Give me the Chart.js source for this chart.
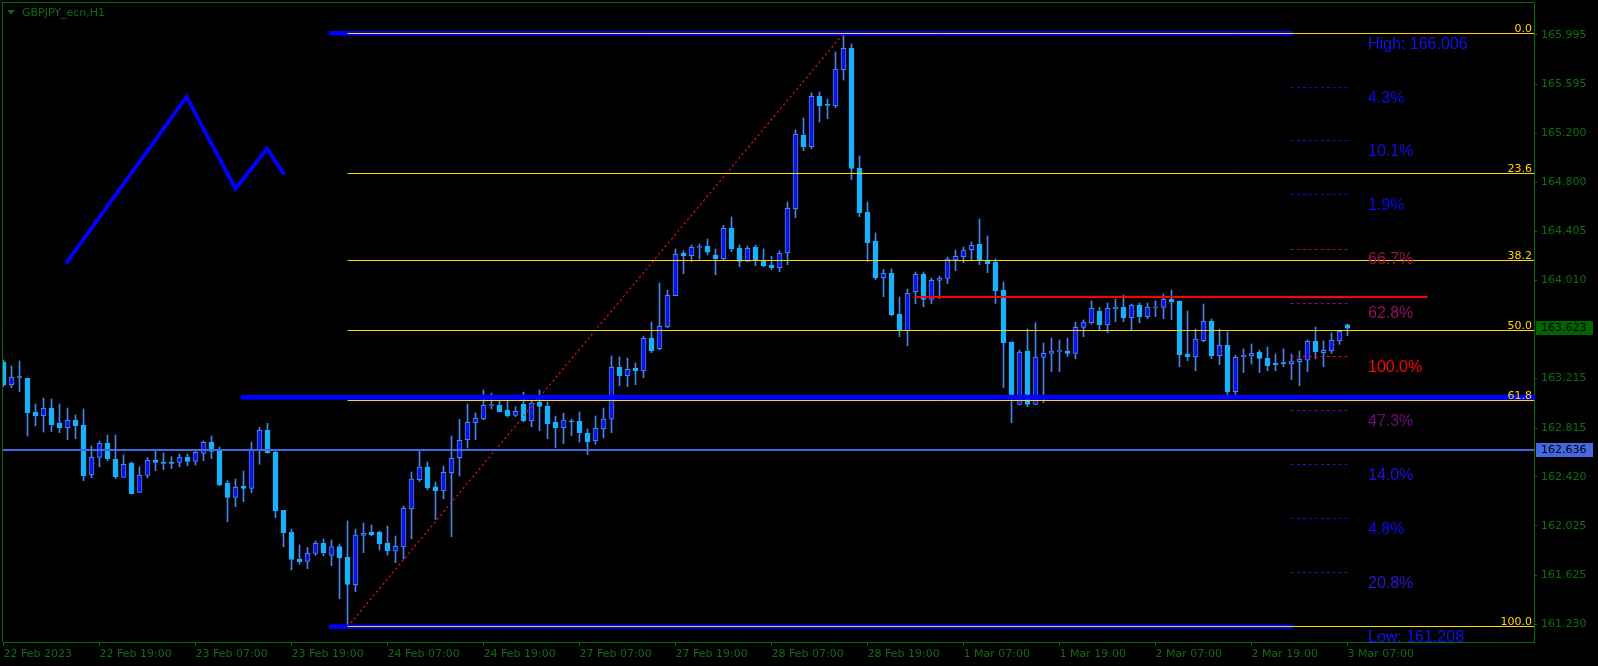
<!DOCTYPE html>
<html>
<head>
<meta charset="utf-8">
<title>GBPJPY_ecn,H1</title>
<script src="https://cdn.jsdelivr.net/npm/chart.js@4.4.1/dist/chart.umd.min.js"></script>
<style>
  html, body { margin: 0; padding: 0; background: #000; }
  #wrap { position: relative; width: 1598px; height: 666px; }
</style>
</head>
<body>
<div id="wrap"><canvas id="priceChart"></canvas></div>
<script>
// GBPJPY H1 candles, one row = 12 hours (22 Feb 2023 07:00 .. 3 Mar 2023 07:00)
const opens = [
  163.349, 163.166, 163.225, 163.217, 162.945, 162.915, 162.974, 162.856, 162.818, 162.880, 162.840, 162.438,
  162.578, 162.692, 162.562, 162.417, 162.530, 162.295, 162.433, 162.554, 162.541, 162.541, 162.538, 162.578,
  162.546, 162.611, 162.700, 162.627, 162.368, 162.255, 162.347, 162.328, 162.638, 162.797, 162.619, 162.150,
  161.972, 161.756, 161.738, 161.802, 161.883, 161.786, 161.856, 161.770, 161.549, 161.948, 161.972, 161.975,
  161.886, 161.821, 161.856, 162.163, 162.398, 162.500, 162.339, 162.309, 162.454, 162.576, 162.721, 162.859,
  162.891, 162.999, 163.001, 162.958, 162.918, 163.009, 162.875, 163.026, 162.991, 162.864, 162.818, 162.867,
  162.869, 162.775, 162.713, 162.810, 162.886, 163.306, 163.239, 163.298, 163.279, 163.540, 163.457, 163.635,
  163.885, 164.228, 164.209, 164.276, 164.284, 164.211, 164.184, 164.430, 164.268, 164.163, 164.276, 164.168,
  164.133, 164.112, 164.233, 164.589, 165.181, 165.090, 165.497, 165.427, 165.421, 165.712, 165.885, 164.917,
  164.562, 164.327, 164.031, 164.066, 163.737, 163.602, 163.918, 164.058, 163.856, 164.009, 164.025, 164.174,
  164.201, 164.257, 164.300, 164.168, 164.157, 163.928, 163.511, 163.007, 163.438, 163.007, 163.387, 163.419,
  163.435, 163.438, 163.419, 163.629, 163.667, 163.759, 163.651, 163.778, 163.791, 163.707, 163.810, 163.716,
  163.788, 163.791, 163.858, 163.842, 163.414, 163.392, 163.522, 163.678, 163.400, 163.484, 163.109, 163.392,
  163.400, 163.427, 163.379, 163.338, 163.338, 163.336, 163.352, 163.363, 163.516, 163.425, 163.441, 163.522,
  163.650
];
const highs = [
  163.365, 163.317, 163.357, 163.217, 163.010, 163.058, 163.050, 163.010, 162.977, 162.921, 162.969, 162.670,
  162.710, 162.759, 162.759, 162.597, 162.541, 162.503, 162.576, 162.640, 162.613, 162.584, 162.605, 162.605,
  162.630, 162.710, 162.751, 162.662, 162.390, 162.403, 162.468, 162.702, 162.821, 162.853, 162.638, 162.150,
  161.999, 161.870, 161.851, 161.902, 161.918, 161.910, 161.878, 162.064, 161.999, 162.047, 162.031, 161.983,
  162.023, 161.942, 162.185, 162.460, 162.643, 162.541, 162.379, 162.508, 162.751, 162.886, 163.012, 162.937,
  163.123, 163.098, 163.036, 163.036, 162.988, 163.106, 163.036, 163.123, 163.026, 162.912, 162.934, 162.886,
  162.945, 162.807, 162.913, 162.977, 163.398, 163.390, 163.381, 163.341, 163.559, 163.672, 163.988, 163.931,
  164.263, 164.249, 164.295, 164.303, 164.343, 164.263, 164.454, 164.521, 164.295, 164.287, 164.295, 164.263,
  164.203, 164.249, 164.643, 165.225, 165.322, 165.524, 165.532, 165.475, 165.855, 166.006, 165.920, 165.014,
  164.643, 164.392, 164.098, 164.101, 163.874, 163.939, 164.077, 164.077, 164.028, 164.044, 164.198, 164.254,
  164.279, 164.319, 164.505, 164.368, 164.182, 163.996, 163.511, 163.446, 163.616, 163.667, 163.503, 163.543,
  163.527, 163.543, 163.672, 163.689, 163.842, 163.791, 163.826, 163.858, 163.891, 163.818, 163.826, 163.826,
  163.842, 163.899, 163.931, 163.842, 163.761, 163.613, 163.818, 163.697, 163.613, 163.592, 163.403, 163.454,
  163.495, 163.446, 163.470, 163.414, 163.454, 163.414, 163.438, 163.527, 163.632, 163.519, 163.584, 163.597,
  163.655
];
const lows = [
  163.150, 163.142, 163.109, 162.751, 162.832, 162.783, 162.786, 162.778, 162.721, 162.729, 162.390, 162.414,
  162.503, 162.551, 162.406, 162.417, 162.285, 162.295, 162.414, 162.471, 162.479, 162.487, 162.503, 162.511,
  162.516, 162.551, 162.568, 162.349, 162.058, 162.180, 162.220, 162.293, 162.522, 162.611, 162.091, 161.856,
  161.668, 161.713, 161.678, 161.786, 161.783, 161.703, 161.436, 161.208, 161.492, 161.808, 161.945, 161.829,
  161.789, 161.727, 161.756, 161.921, 162.382, 162.317, 162.074, 162.244, 161.937, 162.427, 162.654, 162.721,
  162.883, 162.969, 162.945, 162.904, 162.907, 162.867, 162.826, 162.794, 162.729, 162.657, 162.689, 162.754,
  162.702, 162.600, 162.686, 162.737, 162.778, 163.158, 163.150, 163.166, 163.222, 163.425, 163.446, 163.627,
  163.885, 164.063, 164.160, 164.182, 164.214, 164.055, 164.176, 164.241, 164.120, 164.163, 164.128, 164.120,
  164.096, 164.079, 164.136, 164.516, 165.058, 165.074, 165.289, 165.316, 165.405, 165.629, 164.823, 164.524,
  164.160, 164.015, 163.877, 163.724, 163.554, 163.481, 163.821, 163.796, 163.821, 163.861, 163.982, 164.087,
  164.152, 164.174, 164.136, 164.071, 163.821, 163.142, 162.859, 163.001, 162.988, 163.002, 163.020, 163.271,
  163.271, 163.392, 163.376, 163.554, 163.654, 163.602, 163.586, 163.675, 163.675, 163.608, 163.667, 163.699,
  163.716, 163.699, 163.691, 163.311, 163.360, 163.279, 163.513, 163.376, 163.328, 163.085, 163.085, 163.263,
  163.333, 163.263, 163.279, 163.279, 163.311, 163.206, 163.158, 163.271, 163.376, 163.311, 163.419, 163.492,
  163.562
];
const closes = [
  163.166, 163.225, 163.224, 162.939, 162.915, 162.974, 162.842, 162.818, 162.877, 162.834, 162.430, 162.578,
  162.692, 162.568, 162.422, 162.522, 162.285, 162.433, 162.554, 162.538, 162.530, 162.530, 162.578, 162.546,
  162.619, 162.700, 162.627, 162.357, 162.255, 162.336, 162.328, 162.638, 162.797, 162.616, 162.147, 161.969,
  161.754, 161.735, 161.802, 161.883, 161.808, 161.856, 161.767, 161.552, 161.950, 161.964, 161.953, 161.880,
  161.821, 161.859, 162.166, 162.403, 162.500, 162.333, 162.309, 162.457, 162.570, 162.716, 162.861, 162.894,
  162.999, 163.001, 162.948, 162.915, 162.950, 162.875, 163.018, 162.991, 162.851, 162.818, 162.880, 162.866,
  162.778, 162.705, 162.813, 162.888, 163.306, 163.239, 163.290, 163.279, 163.540, 163.441, 163.637, 163.888,
  164.219, 164.209, 164.276, 164.281, 164.236, 164.184, 164.430, 164.265, 164.163, 164.268, 164.174, 164.128,
  164.112, 164.228, 164.591, 165.190, 165.090, 165.497, 165.421, 165.424, 165.715, 165.885, 164.915, 164.556,
  164.314, 164.031, 164.066, 163.732, 163.602, 163.904, 164.058, 163.856, 164.009, 164.028, 164.182, 164.203,
  164.254, 164.292, 164.174, 164.144, 163.926, 163.505, 163.058, 163.430, 163.007, 163.389, 163.419, 163.438,
  163.438, 163.419, 163.629, 163.672, 163.783, 163.651, 163.783, 163.794, 163.707, 163.807, 163.716, 163.791,
  163.794, 163.856, 163.837, 163.408, 163.392, 163.532, 163.678, 163.400, 163.484, 163.109, 163.387, 163.403,
  163.419, 163.379, 163.319, 163.328, 163.336, 163.357, 163.371, 163.516, 163.433, 163.443, 163.524, 163.597,
  163.623
];

// axis ticks
const xTickIdx = [0, 12, 24, 36, 48, 60, 72, 84, 96, 108, 120, 132, 144, 156, 168];
const xLabels = ['22 Feb 2023', '22 Feb 19:00', '23 Feb 07:00', '23 Feb 19:00', '24 Feb 07:00', '24 Feb 19:00',
  '27 Feb 07:00', '27 Feb 19:00', '28 Feb 07:00', '28 Feb 19:00', '1 Mar 07:00', '1 Mar 19:00',
  '2 Mar 07:00', '2 Mar 19:00', '3 Mar 07:00'];
const yTickValues = [161.230, 161.625, 162.025, 162.420, 162.815, 163.215, 164.010, 164.405, 164.800, 165.200, 165.595, 165.995];

// fibonacci retracement, anchored low -> high
const fibLow = 161.208, fibHigh = 166.006;
const fibLowIdx = 43, fibHighIdx = 105;
const fibLevels = [0.0, 23.6, 38.2, 50.0, 61.8, 100.0];

// other chart objects
const bidPrice = 163.623;
const hLinePrice = 162.636;
const midBluePrice = 163.064;
const redLinePrice = 163.875;
const zigzagX = [7.83, 22.88, 28.99, 32.94, 35.1];
const zigzagY = [164.149, 165.492, 164.750, 165.072, 164.866];
const pctLabels = ['4.3%', '10.1%', '1.9%', '66.7%', '62.8%', '100.0%', '47.3%', '14.0%', '4.8%', '20.8%'];
const pctPrices = [165.567, 165.138, 164.701, 164.262, 163.826, 163.390, 162.959, 162.522, 162.086, 161.650];
const pctColors = ['#0b08f0', '#1a08e6', '#0808f4', '#96104f', '#92105a', '#ff0000', '#700a86', '#2410de', '#0c08f0', '#3410d0'];

const X_MIN = -0.0625, X_MAX = 191.3125;
const Y_MAX = 166.2513, Y_MIN = 161.0856;

const FRAME = '#007000';
const AXIS_TEXT = '#0b700b';
const WICK = '#4682e8';
const BULL_FILL = '#0c12e0';
const BEAR_FILL = '#16b2ff';
const GOLD = '#ffd700';
const BLUE = '#0000ff';

const idx = opens.map((_, i) => i);
const isBull = idx.map(i => closes[i] >= opens[i]);

function segment(x0, y0, x1, y1, color, width, extra) {
    return Object.assign({
        type: 'line',
        data: [{ x: x0, y: y0 }, { x: x1, y: y1 }],
        borderColor: color,
        borderWidth: width,
        pointRadius: 0,
        pointHoverRadius: 0,
        fill: false,
        tension: 0,
        clip: 0,
        order: 2
    }, extra || {});
}

const datasets = [];

// wicks
datasets.push({
    type: 'bar',
    data: idx.map(i => ({ x: i, y: [Math.min(lows[i], opens[i], closes[i]), Math.max(highs[i], opens[i], closes[i])] })),
    backgroundColor: WICK,
    borderWidth: 0,
    barThickness: 1,
    maxBarThickness: 1,
    grouped: false,
    order: 11
});
// bodies
datasets.push({
    type: 'bar',
    data: idx.map(i => ({ x: i, y: [opens[i], closes[i]] })),
    backgroundColor: idx.map(i => isBull[i] ? BULL_FILL : BEAR_FILL),
    borderColor: idx.map(i => isBull[i] ? WICK : BEAR_FILL),
    borderWidth: 1,
    borderSkipped: false,
    barThickness: 5,
    maxBarThickness: 5,
    minBarLength: 1,
    grouped: false,
    order: 10
});

// thick blue trend lines
datasets.push(segment(40.9, fibHigh, 161.0, fibHigh, BLUE, 4.5, { borderCapStyle: 'round', order: 1 }));
datasets.push(segment(40.9, fibLow, 161.0, fibLow, BLUE, 4.5, { borderCapStyle: 'round', order: 1 }));
datasets.push(segment(29.9, midBluePrice, X_MAX, midBluePrice, BLUE, 5, { borderCapStyle: 'round', order: 1, clip: 1 }));

// horizontal lines
datasets.push(segment(X_MIN, hLinePrice, X_MAX, hLinePrice, '#4169e1', 2, { clip: 1, snap: true }));
datasets.push(segment(113.9, redLinePrice, 178.0, redLinePrice, '#ff0000', 2, { snap: true }));

// fib levels and the dotted anchor line
fibLevels.forEach(lv => {
    const p = fibHigh - (fibHigh - fibLow) * lv / 100;
    datasets.push(segment(fibLowIdx, p, X_MAX, p, GOLD, 1, { order: 0, clip: 1, snap: true }));
});
datasets.push(segment(fibLowIdx, fibLow, fibHighIdx, fibHigh, '#ff1010', 1.2, { borderDash: [2, 3] }));

// percentage markers
pctPrices.forEach((p, k) => {
    datasets.push(segment(160.9, p, 168.0, p, pctColors[k], 1, { borderDash: [3, 3], snap: true }));
});

// zigzag drawing
datasets.push({
    type: 'line',
    data: zigzagX.map((x, k) => ({ x: x, y: zigzagY[k] })),
    borderColor: BLUE,
    borderWidth: 4,
    borderJoinStyle: 'miter',
    pointRadius: 0,
    fill: false,
    tension: 0,
    order: 1
});

const mtObjects = {
    id: 'mtObjects',
    beforeDraw(chart) {
        const ctx = chart.ctx;
        ctx.save();
        ctx.fillStyle = '#000';
        ctx.fillRect(0, 0, chart.width, chart.height);
        ctx.restore();
    },
    // keep thin horizontal lines on whole pixels, like the terminal does
    beforeDatasetDraw(chart, args) {
        const ds = chart.data.datasets[args.index];
        if (!ds.snap) return;
        const w = ds.borderWidth;
        args.meta.data.forEach(pt => {
            pt.y = (w % 2 === 1) ? Math.floor(pt.y) + 0.5 : Math.round(pt.y);
        });
    },
    afterDatasetsDraw(chart) {
        const ctx = chart.ctx;
        const area = chart.chartArea;
        const xs = chart.scales.x, ys = chart.scales.y;
        ctx.save();
        ctx.beginPath();
        ctx.rect(area.left, area.top, area.right - area.left, area.bottom - area.top);
        ctx.clip();

        // fib level captions
        ctx.font = '11px "DejaVu Sans"';
        ctx.fillStyle = GOLD;
        ctx.textAlign = 'right';
        ctx.textBaseline = 'alphabetic';
        fibLevels.forEach(lv => {
            const p = fibHigh - (fibHigh - fibLow) * lv / 100;
            ctx.fillText(lv.toFixed(1), area.right - 2, Math.floor(ys.getPixelForValue(p)) - 1);
        });

        // text objects
        const tx = xs.getPixelForValue(170.56);
        ctx.font = '16px "Liberation Sans"';
        ctx.textAlign = 'left';
        ctx.textBaseline = 'middle';
        ctx.fillStyle = '#1010ee';
        ctx.fillText('High: ' + fibHigh.toFixed(3), tx, ys.getPixelForValue(fibHigh) + 11);
        ctx.fillText('Low: ' + fibLow.toFixed(3), tx, ys.getPixelForValue(fibLow) + 11);
        pctLabels.forEach((t, k) => {
            ctx.fillStyle = pctColors[k];
            ctx.fillText(t, tx, ys.getPixelForValue(pctPrices[k]) + 11);
        });
        ctx.restore();
    },
    afterDraw(chart) {
        const ctx = chart.ctx;
        const area = chart.chartArea;
        const ys = chart.scales.y;
        ctx.save();
        // frame (left, top)
        ctx.strokeStyle = FRAME;
        ctx.lineWidth = 1;
        ctx.beginPath();
        ctx.moveTo(2.5, area.bottom);
        ctx.lineTo(2.5, 2.5);
        ctx.lineTo(area.right, 2.5);
        ctx.stroke();

        // symbol caption
        ctx.fillStyle = AXIS_TEXT;
        ctx.beginPath();
        ctx.moveTo(7, 10);
        ctx.lineTo(15, 10);
        ctx.lineTo(11, 14.5);
        ctx.closePath();
        ctx.fill();
        ctx.font = '11px "DejaVu Sans"';
        ctx.textAlign = 'left';
        ctx.textBaseline = 'middle';
        ctx.fillText('GBPJPY_ecn,H1', 22, 13.5);

        // price tags on the axis
        function tag(price, bg) {
            const y = Math.round(ys.getPixelForValue(price));
            ctx.fillStyle = bg;
            ctx.fillRect(area.right + 2, y - 7, 57, 14);
            ctx.fillStyle = '#000';
            ctx.fillText(price.toFixed(3), area.right + 7, y + 0.5);
        }
        tag(bidPrice, '#006400');
        tag(hLinePrice, '#4169e1');
        ctx.restore();
    }
};

new Chart(document.getElementById('priceChart'), {
    type: 'bar',
    data: { datasets: datasets },
    options: {
        responsive: true,
        maintainAspectRatio: false,
        animation: false,
        events: [],
        layout: { padding: { left: 3, top: 3, right: 0, bottom: 0 } },
        plugins: {
            legend: { display: false },
            tooltip: { enabled: false }
        },
        scales: {
            x: {
                type: 'linear',
                min: X_MIN,
                max: X_MAX,
                offset: false,
                afterBuildTicks: axis => { axis.ticks = xTickIdx.map(v => ({ value: v })); },
                afterFit: axis => {
                    axis.height = 24;
                    axis.paddingLeft = 0;
                    axis.paddingRight = 0;
                },
                ticks: {
                    color: AXIS_TEXT,
                    font: { family: 'DejaVu Sans', size: 11 },
                    align: 'start',
                    maxRotation: 0,
                    autoSkip: false,
                    padding: 2,
                    callback: v => xLabels[xTickIdx.indexOf(v)]
                },
                grid: { drawOnChartArea: false, drawTicks: true, tickLength: 4, color: FRAME, offset: false },
                border: { display: true, color: FRAME }
            },
            y: {
                type: 'linear',
                position: 'right',
                min: Y_MIN,
                max: Y_MAX,
                afterBuildTicks: axis => { axis.ticks = yTickValues.map(v => ({ value: v })); },
                afterFit: axis => {
                    axis.width = 64;
                    axis.paddingTop = 0;
                    axis.paddingBottom = 0;
                },
                ticks: {
                    color: AXIS_TEXT,
                    font: { family: 'DejaVu Sans', size: 11 },
                    padding: 4,
                    autoSkip: false,
                    callback: v => v.toFixed(3)
                },
                grid: { drawOnChartArea: false, drawTicks: true, tickLength: 3, color: FRAME },
                border: { display: true, color: FRAME }
            }
        }
    },
    plugins: [mtObjects]
});
</script>
</body>
</html>
